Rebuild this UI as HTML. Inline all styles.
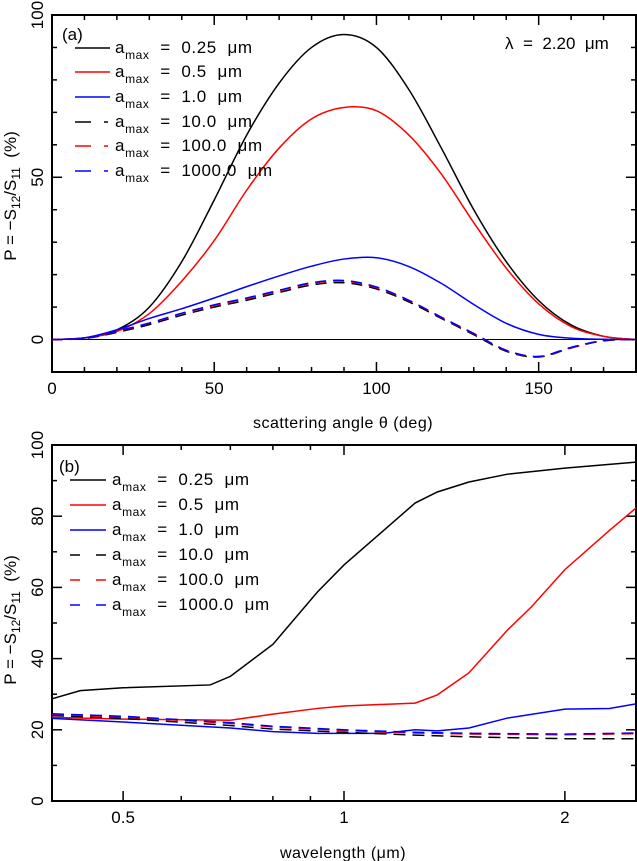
<!DOCTYPE html>
<html><head><meta charset="utf-8"><style>
html,body{margin:0;padding:0;background:#fff;}
svg{display:block;font-family:"Liberation Sans","DejaVu Sans",sans-serif;}
text{white-space:pre;}
</style></head><body>
<svg id="c" width="637" height="861" viewBox="0 0 637 861"></svg>
<script>
// ---- Panel (a) data ----
const angles = [0,10,20,30,40,50,60,70,80,90,100,110,120,130,140,150,160,170,180];
const pA025 = [0,0.5,3,10,24,43,63,79,90,94,90,77,59,40,24,12,4.5,1,0];
const pA05  = [0,0.5,2.5,8,18,30.5,46,59,68,71.5,70.5,63,51,36,22,11,4,1,0];
const pA1   = [0,0.5,3,6.5,9.5,12.8,16.3,19.6,22.6,24.8,25.2,22.5,17.3,10.8,5,1.6,0.4,0.1,0];
const pA10  = [0,0.3,2.2,4.6,7.5,10,12.1,14.5,16.8,17.5,15.6,11.6,6.5,1.5,-3.6,-5.4,-2.6,-0.4,0];
const pA100 = [0,0.4,2.5,5,8,10.5,12.6,15,17.3,18,16,12,6.8,1.8,-3.4,-5.3,-2.5,-0.3,0];
const pA1000= [0,0.4,2.6,5.1,8.1,10.7,12.8,15.2,17.5,18.2,16.2,12.1,6.9,1.9,-3.3,-5.2,-2.4,-0.3,0];
// ---- Panel (b) data ----
const lamB025 = [0.4,0.437,0.5,0.657,0.7,0.8,0.92,1.0,1.25,1.34,1.48,1.67,2.0,2.5];
const pB025   = [28.7,31,31.8,32.6,35,44,58.7,66.3,83.7,86.8,89.6,91.8,93.5,95.2];
const lamB05  = [0.4,0.5,0.7,0.8,0.92,1.0,1.25,1.34,1.48,1.67,1.8,2.0,2.3,2.5];
const pB05    = [23.5,23,22.7,24.4,26,26.7,27.5,29.8,36,48,54.5,65,76,82.3];
const lamB1   = [0.4,0.5,0.7,0.8,0.92,1.0,1.13,1.25,1.34,1.48,1.67,2.0,2.3,2.5];
const pB1     = [23.2,22.2,20.5,19.5,19,19,19,20,19.7,20.5,23.3,25.8,26,27.3];
const lamBd   = [0.4,0.5,0.7,0.8,1.0,1.25,1.5,2.0,2.5];
const pB10    = [24,23.2,21.2,20.2,19.3,18.5,18,17.5,17.5];
const pB100   = [24.3,23.6,21.8,20.8,19.8,19.1,18.8,18.6,18.9];
const pB1000  = [24.5,23.8,22,21,20,19.3,19,18.8,19.1];
const labels = ["0.25","0.5","1.0","10.0","100.0","1000.0"];

const NS="http://www.w3.org/2000/svg";
const svg=document.getElementById('c');
function mk(tag,attrs,parent){const e=document.createElementNS(NS,tag);for(const k in attrs)e.setAttribute(k,attrs[k]);(parent||svg).appendChild(e);return e;}

const A={x0:52,x1:636,y0:15,y1:372};
const B={x0:52,x1:636,y0:445,y1:801};
const xa=t=>A.x0+(t/180)*(A.x1-A.x0);
const ya=v=>A.y0+(100-v)/110*(A.y1-A.y0);
const lmin=Math.log10(0.4),lmax=Math.log10(2.5);
const xb=l=>B.x0+(Math.log10(l)-lmin)/(lmax-lmin)*(B.x1-B.x0);
const yb=v=>B.y1-v/100*(B.y1-B.y0);

function series(xs,ys,fx,fy,color,dash,name,smooth){
  const P=xs.map((x,i)=>[fx(x),fy(ys[i])]);
  let d='M'+P[0][0].toFixed(2)+','+P[0][1].toFixed(2);
  for(let i=0;i<P.length-1;i++){
    if(smooth){
      const p0=P[Math.max(0,i-1)],p1=P[i],p2=P[i+1],p3=P[Math.min(P.length-1,i+2)];
      const c1=[p1[0]+(p2[0]-p0[0])/6,p1[1]+(p2[1]-p0[1])/6];
      const c2=[p2[0]-(p3[0]-p1[0])/6,p2[1]-(p3[1]-p1[1])/6];
      d+='C'+c1[0].toFixed(2)+','+c1[1].toFixed(2)+' '+c2[0].toFixed(2)+','+c2[1].toFixed(2)+' '+p2[0].toFixed(2)+','+p2[1].toFixed(2);
    } else d+='L'+P[i+1][0].toFixed(2)+','+P[i+1][1].toFixed(2);
  }
  const p=mk('path',{d:d,fill:'none',stroke:color,'stroke-width':1.5});
  if(dash)p.setAttribute('stroke-dasharray',dash);
  
  
}
function text(x,y,s,opts,name){
  const t=mk('text',Object.assign({x:x,y:y,'font-size':16,fill:'#000'},opts||{}));
  t.textContent=s;
  
  
  return t;
}

// ---------- Panel A ----------
const gA=mk('g',{});


mk('line',{x1:A.x0,x2:A.x1,y1:ya(0),y2:ya(0),stroke:'#000','stroke-width':1},gA);
for(let t=0;t<=180;t+=10){
  const L=(t%50===0)?10:5;
  mk('line',{x1:xa(t),x2:xa(t),y1:A.y1,y2:A.y1-L,stroke:'#000','stroke-width':1.5},gA);
  mk('line',{x1:xa(t),x2:xa(t),y1:A.y0,y2:A.y0+L,stroke:'#000','stroke-width':1.5},gA);
}
for(let v=-10;v<=100;v+=10){
  const L=(v%50===0)?10:5;
  mk('line',{x1:A.x0,x2:A.x0+L,y1:ya(v),y2:ya(v),stroke:'#000','stroke-width':1.5},gA);
  mk('line',{x1:A.x1,x2:A.x1-L,y1:ya(v),y2:ya(v),stroke:'#000','stroke-width':1.5},gA);
}
[0,50,100,150].forEach(t=>text(xa(t),394,String(t),{'text-anchor':'middle','font-size':17},'x-tick-label-a'));
[0,50,100].forEach(v=>text(0,0,String(v),{'text-anchor':'middle','font-size':17,transform:`translate(43,${ya(v)}) rotate(-90)`},'y-tick-label-a'));
text(343,428,'scattering angle θ (deg)',{'text-anchor':'middle','font-size':16,'letter-spacing':'0.5'},'x-axis-title-a');
series(angles,pA025,xa,ya,'#000',null,'line-a-025',true);
series(angles,pA05,xa,ya,'#f00',null,'line-a-05',true);
series(angles,pA1,xa,ya,'#00f',null,'line-a-1',true);
series(angles,pA10,xa,ya,'#000','11,7','line-a-10',true);
series(angles,pA100,xa,ya,'#f00','11,7','line-a-100',true);
series(angles,pA1000,xa,ya,'#00f','11,7','line-a-1000',true);
mk('rect',{x:A.x0,y:A.y0,width:A.x1-A.x0,height:A.y1-A.y0,fill:'none',stroke:'#000','stroke-width':2},gA);
text(62,40,'(a)',{'font-size':17},'panel-label-a');
text(505,49,'λ  =  2.20  μm',{'font-size':17},'wavelength-annotation');

// ---------- Panel B ----------
const gB=mk('g',{});


[0.5,0.6,0.7,0.8,0.9,1,2].forEach(l=>{
  const L=(l===0.5||l===1||l===2)?10:5;
  mk('line',{x1:xb(l),x2:xb(l),y1:B.y1,y2:B.y1-L,stroke:'#000','stroke-width':1.5},gB);
  mk('line',{x1:xb(l),x2:xb(l),y1:B.y0,y2:B.y0+L,stroke:'#000','stroke-width':1.5},gB);
});
for(let v=0;v<=100;v+=10){
  const L=(v%20===0)?10:5;
  mk('line',{x1:B.x0,x2:B.x0+L,y1:yb(v),y2:yb(v),stroke:'#000','stroke-width':1.5},gB);
  mk('line',{x1:B.x1,x2:B.x1-L,y1:yb(v),y2:yb(v),stroke:'#000','stroke-width':1.5},gB);
}
[0.5,1,2].forEach(l=>text(xb(l),823,String(l),{'text-anchor':'middle','font-size':17},'x-tick-label-b'));
[0,20,40,60,80,100].forEach(v=>text(0,0,String(v),{'text-anchor':'middle','font-size':17,transform:`translate(43,${yb(v)}) rotate(-90)`},'y-tick-label-b'));
text(343,858,'wavelength (μm)',{'text-anchor':'middle','font-size':16,'letter-spacing':'0.5'},'x-axis-title-b');
series(lamB025,pB025,xb,yb,'#000',null,'line-b-025',false);
series(lamB05,pB05,xb,yb,'#f00',null,'line-b-05',false);
series(lamB1,pB1,xb,yb,'#00f',null,'line-b-1',false);
series(lamBd,pB10,xb,yb,'#000','12,7','line-b-10',false);
series(lamBd,pB100,xb,yb,'#f00','12,7','line-b-100',false);
series(lamBd,pB1000,xb,yb,'#00f','12,7','line-b-1000',false);
mk('rect',{x:B.x0,y:B.y0,width:B.x1-B.x0,height:B.y1-B.y0,fill:'none',stroke:'#000','stroke-width':2},gB);
text(59,472,'(b)',{'font-size':17},'panel-label-b');

function ytitle(cy,name){
  const t=mk('text',{x:0,y:0,'font-size':17,'text-anchor':'middle',transform:`translate(16,${cy}) rotate(-90)`});
  t.innerHTML='P = −S<tspan font-size="12" dy="4">12</tspan><tspan dy="-4">/S</tspan><tspan font-size="12" dy="4">11</tspan><tspan dy="-4">  (%)</tspan>';
  
  
}
ytitle(196,'y-axis-title-a');
ytitle(620,'y-axis-title-b');

const colors=['#000','#f00','#00f','#000','#f00','#00f'];
function legend(x0,x1,tx,ys,dash,name){
  const g=mk('g',{});
  
  
  ys.forEach((y,i)=>{
    const ln=mk('line',{x1:x0,x2:x1,y1:y,y2:y,stroke:colors[i],'stroke-width':1.5},g);
    if(i>=3)ln.setAttribute('stroke-dasharray',dash);
    const t=mk('text',{x:tx,y:y+5,'font-size':17,'letter-spacing':'0.6'},g);
    t.innerHTML='a<tspan font-size="12" dy="6">max</tspan><tspan dy="-6">  =  '+labels[i]+'  μm</tspan>';
    
    
  });
}
legend(75,110,115,[48,72,97,122,146,171],'16,13,4','legend-a');
legend(70,106,112,[480,505,530,555,580,605],'10,16,10','legend-b');
</script>
</body></html>
